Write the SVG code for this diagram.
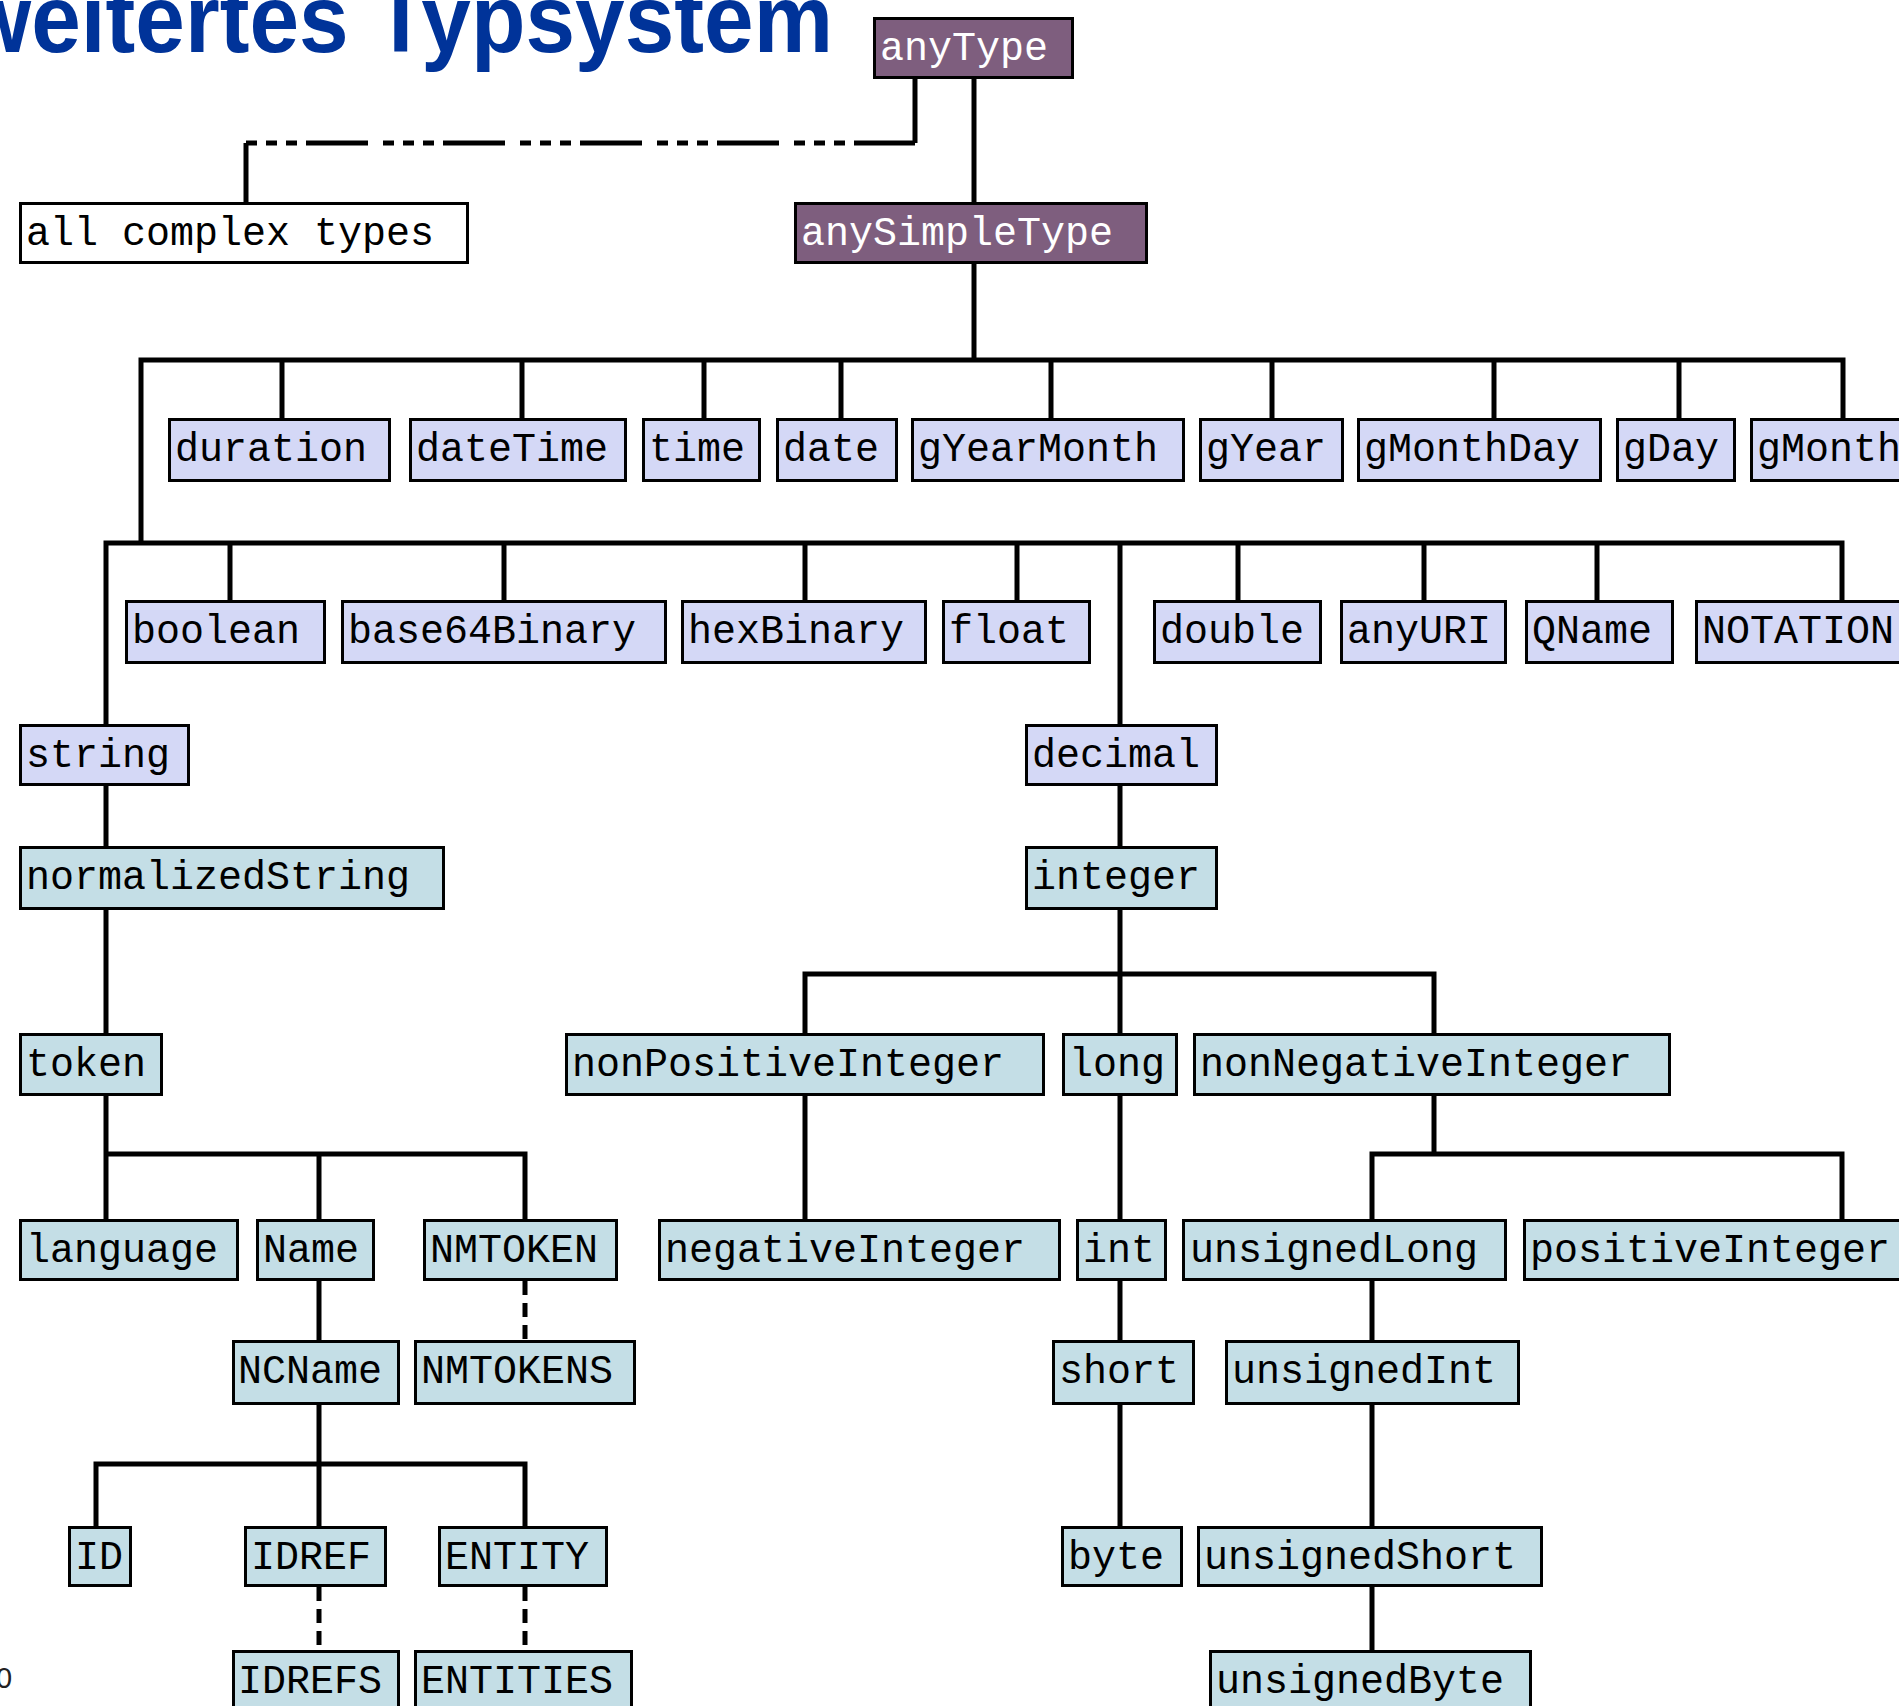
<svg xmlns="http://www.w3.org/2000/svg" width="1899" height="1706" viewBox="0 0 1899 1706">
  <style>
    .box rect { stroke: #000; stroke-width: 3; }
    .pur rect { fill: #7e5e7e; }
    .wht rect { fill: #ffffff; }
    .lav rect { fill: #d4d8f6; }
    .blu rect { fill: #c4dee6; }
    .box text { font-family: "Liberation Mono", "DejaVu Sans Mono", monospace; font-size: 40px; fill: #000; }
    .pur text { fill: #ffffff; }
    .wire { fill: none; stroke: #000; stroke-width: 5; }
    .dash { stroke-dasharray: 14 8; }
    .dashdot { stroke-dasharray: 11 9 11 9 11 9 62 15; }
    .title { font-family: "Liberation Sans", Arial, sans-serif; font-weight: bold; font-size: 97px; fill: #003399; }
    .pageno { font-family: "Liberation Sans", Arial, sans-serif; font-size: 29px; fill: #222; }
  </style>
  <rect x="0" y="0" width="1899" height="1706" fill="#ffffff"/>

  <!-- slide heading, partly outside the canvas -->
  <text class="title" transform="translate(833,52) scale(0.92,1)" text-anchor="end">Erweitertes Typsystem</text>
  <text class="pageno" x="-4" y="1688">0</text>

  <g id="connectors">
    <!-- anyType to complex types (dash-dot) -->
    <path class="wire" d="M915,79 V143"/>
    <path class="wire dashdot" d="M246,143 H915"/>
    <path class="wire" d="M246,143 V202"/>
    <!-- anyType to anySimpleType -->
    <path class="wire" d="M974,79 V202"/>
    <path class="wire" d="M974,264 V360"/>
    <!-- first bus (date/time types) -->
    <path class="wire" d="M141,543 V360 H1843 V418"/>
    <path class="wire" d="M282,360 V418 M522,360 V418 M704,360 V418 M841,360 V418 M1051,360 V418 M1272,360 V418 M1494,360 V418 M1679,360 V418"/>
    <!-- second bus -->
    <path class="wire" d="M106,724 V543 H1842 V600"/>
    <path class="wire" d="M230,543 V600 M504,543 V600 M805,543 V600 M1017,543 V600 M1238,543 V600 M1424,543 V600 M1597,543 V600"/>
    <!-- string branch -->
    <path class="wire" d="M106,786 V846 M106,910 V1033"/>
    <path class="wire" d="M106,1096 V1219 M106,1154 H525 V1219 M319,1154 V1219"/>
    <path class="wire" d="M319,1281 V1340"/>
    <path class="wire dash" d="M525,1281 V1340"/>
    <path class="wire" d="M319,1405 V1526 M96,1526 V1464 H525 V1526"/>
    <path class="wire dash" d="M319,1587 V1650 M525,1587 V1650"/>
    <!-- decimal branch -->
    <path class="wire" d="M1120,543 V724 M1120,786 V846 M1120,910 V1034"/>
    <path class="wire" d="M805,1034 V974 H1434 V1034"/>
    <path class="wire" d="M805,1096 V1219"/>
    <path class="wire" d="M1120,1096 V1219 M1120,1281 V1340 M1120,1405 V1526"/>
    <path class="wire" d="M1434,1096 V1154 M1372,1219 V1154 H1842 V1219"/>
    <path class="wire" d="M1372,1281 V1340 M1372,1405 V1526 M1372,1587 V1650"/>
  </g>

  <g id="anyType" class="box pur"><rect x="874.5" y="18.5" width="198" height="59"/><text x="880" y="60">anyType</text></g>
  <g id="anySimpleType" class="box pur"><rect x="795.5" y="203.5" width="351" height="59"/><text x="801" y="245">anySimpleType</text></g>
  <g id="allComplexTypes" class="box wht"><rect x="20.5" y="203.5" width="447" height="59"/><text x="26" y="245">all complex types</text></g>

  <g id="duration" class="box lav"><rect x="169.5" y="419.5" width="220" height="61"/><text x="175" y="461">duration</text></g>
  <g id="dateTime" class="box lav"><rect x="410.5" y="419.5" width="215" height="61"/><text x="416" y="461">dateTime</text></g>
  <g id="time" class="box lav"><rect x="643.5" y="419.5" width="116" height="61"/><text x="649" y="461">time</text></g>
  <g id="date" class="box lav"><rect x="777.5" y="419.5" width="119" height="61"/><text x="783" y="461">date</text></g>
  <g id="gYearMonth" class="box lav"><rect x="912.5" y="419.5" width="271" height="61"/><text x="918" y="461">gYearMonth</text></g>
  <g id="gYear" class="box lav"><rect x="1200.5" y="419.5" width="142" height="61"/><text x="1206" y="461">gYear</text></g>
  <g id="gMonthDay" class="box lav"><rect x="1358.5" y="419.5" width="242" height="61"/><text x="1364" y="461">gMonthDay</text></g>
  <g id="gDay" class="box lav"><rect x="1617.5" y="419.5" width="117" height="61"/><text x="1623" y="461">gDay</text></g>
  <g id="gMonth" class="box lav"><rect x="1751.5" y="419.5" width="180" height="61"/><text x="1757" y="461">gMonth</text></g>

  <g id="boolean" class="box lav"><rect x="126.5" y="601.5" width="198" height="61"/><text x="132" y="643">boolean</text></g>
  <g id="base64Binary" class="box lav"><rect x="342.5" y="601.5" width="323" height="61"/><text x="348" y="643">base64Binary</text></g>
  <g id="hexBinary" class="box lav"><rect x="682.5" y="601.5" width="243" height="61"/><text x="688" y="643">hexBinary</text></g>
  <g id="float" class="box lav"><rect x="943.5" y="601.5" width="146" height="61"/><text x="949" y="643">float</text></g>
  <g id="double" class="box lav"><rect x="1154.5" y="601.5" width="166" height="61"/><text x="1160" y="643">double</text></g>
  <g id="anyURI" class="box lav"><rect x="1341.5" y="601.5" width="164" height="61"/><text x="1347" y="643">anyURI</text></g>
  <g id="QName" class="box lav"><rect x="1526.5" y="601.5" width="146" height="61"/><text x="1532" y="643">QName</text></g>
  <g id="NOTATION" class="box lav"><rect x="1696.5" y="601.5" width="240" height="61"/><text x="1702" y="643">NOTATION</text></g>

  <g id="string" class="box lav"><rect x="20.5" y="725.5" width="168" height="59"/><text x="26" y="767">string</text></g>
  <g id="decimal" class="box lav"><rect x="1026.5" y="725.5" width="190" height="59"/><text x="1032" y="767">decimal</text></g>

  <g id="normalizedString" class="box blu"><rect x="20.5" y="847.5" width="423" height="61"/><text x="26" y="889">normalizedString</text></g>
  <g id="integer" class="box blu"><rect x="1026.5" y="847.5" width="190" height="61"/><text x="1032" y="889">integer</text></g>

  <g id="token" class="box blu"><rect x="20.5" y="1034.5" width="141" height="60"/><text x="26" y="1076">token</text></g>
  <g id="nonPositiveInteger" class="box blu"><rect x="566.5" y="1034.5" width="477" height="60"/><text x="572" y="1076">nonPositiveInteger</text></g>
  <g id="long" class="box blu"><rect x="1063.5" y="1034.5" width="113" height="60"/><text x="1069" y="1076">long</text></g>
  <g id="nonNegativeInteger" class="box blu"><rect x="1194.5" y="1034.5" width="475" height="60"/><text x="1200" y="1076">nonNegativeInteger</text></g>

  <g id="language" class="box blu"><rect x="20.5" y="1220.5" width="217" height="59"/><text x="26" y="1262">language</text></g>
  <g id="Name" class="box blu"><rect x="257.5" y="1220.5" width="116" height="59"/><text x="263" y="1262">Name</text></g>
  <g id="NMTOKEN" class="box blu"><rect x="424.5" y="1220.5" width="192" height="59"/><text x="430" y="1262">NMTOKEN</text></g>
  <g id="negativeInteger" class="box blu"><rect x="659.5" y="1220.5" width="400" height="59"/><text x="665" y="1262">negativeInteger</text></g>
  <g id="int" class="box blu"><rect x="1077.5" y="1220.5" width="88" height="59"/><text x="1083" y="1262">int</text></g>
  <g id="unsignedLong" class="box blu"><rect x="1183.5" y="1220.5" width="322" height="59"/><text x="1190" y="1262">unsignedLong</text></g>
  <g id="positiveInteger" class="box blu"><rect x="1524.5" y="1220.5" width="400" height="59"/><text x="1530" y="1262">positiveInteger</text></g>

  <g id="NCName" class="box blu"><rect x="233.5" y="1341.5" width="165" height="62"/><text x="238" y="1383">NCName</text></g>
  <g id="NMTOKENS" class="box blu"><rect x="415.5" y="1341.5" width="219" height="62"/><text x="421" y="1383">NMTOKENS</text></g>
  <g id="short" class="box blu"><rect x="1053.5" y="1341.5" width="140" height="62"/><text x="1059" y="1383">short</text></g>
  <g id="unsignedInt" class="box blu"><rect x="1226.5" y="1341.5" width="292" height="62"/><text x="1232" y="1383">unsignedInt</text></g>

  <g id="ID" class="box blu"><rect x="69.5" y="1527.5" width="61" height="58"/><text x="75" y="1569">ID</text></g>
  <g id="IDREF" class="box blu"><rect x="245.5" y="1527.5" width="140" height="58"/><text x="251" y="1569">IDREF</text></g>
  <g id="ENTITY" class="box blu"><rect x="439.5" y="1527.5" width="167" height="58"/><text x="445" y="1569">ENTITY</text></g>
  <g id="byte" class="box blu"><rect x="1062.5" y="1527.5" width="119" height="58"/><text x="1068" y="1569">byte</text></g>
  <g id="unsignedShort" class="box blu"><rect x="1198.5" y="1527.5" width="343" height="58"/><text x="1204" y="1569">unsignedShort</text></g>

  <g id="IDREFS" class="box blu"><rect x="233.5" y="1651.5" width="165" height="80"/><text x="238" y="1693">IDREFS</text></g>
  <g id="ENTITIES" class="box blu"><rect x="415.5" y="1651.5" width="216" height="80"/><text x="421" y="1693">ENTITIES</text></g>
  <g id="unsignedByte" class="box blu"><rect x="1210.5" y="1651.5" width="320" height="80"/><text x="1216" y="1693">unsignedByte</text></g>
</svg>
